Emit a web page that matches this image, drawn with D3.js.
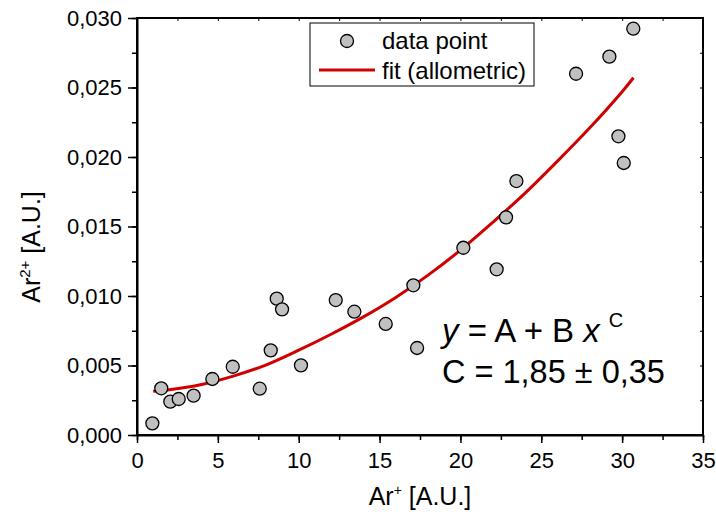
<!DOCTYPE html>
<html>
<head>
<meta charset="utf-8">
<script src="https://cdn.jsdelivr.net/npm/d3@7"></script>
<style>
  body { margin: 0; background: #fff; }
  svg text { font-family: "Liberation Sans", Arial, sans-serif; fill: #000; }
  .axis path, .axis line { stroke: #000; }
</style>
</head>
<body>
<svg id="svg"></svg>
<script>
  // data
  const arPlus = [0.95, 1.5, 2.06, 2.58, 3.5, 4.66, 5.92, 7.59, 8.27, 8.64, 8.97, 10.14, 12.29, 13.44,
                  15.38, 17.09, 17.32, 20.18, 22.24, 22.82, 23.46, 27.15, 29.21, 29.77, 30.1, 30.69];
  const ar2Plus = [0.00084, 0.00336, 0.0024, 0.00259, 0.00283, 0.00403, 0.00491, 0.00333, 0.00609, 0.00981, 0.00904, 0.00501, 0.00971, 0.00887,
                   0.00799, 0.01077, 0.00626, 0.01347, 0.01192, 0.01566, 0.01827, 0.02599, 0.02722, 0.02149, 0.01957, 0.02923];
  const fitX = [1, 2, 4, 6, 8, 10, 12, 14, 16, 18, 20, 22, 24, 26, 28, 30, 30.7];
  const fitY = [0.00315, 0.00325, 0.00363, 0.00425, 0.00505, 0.0061, 0.00725, 0.0085, 0.0099, 0.0115,
                0.0133, 0.0153, 0.0174, 0.0197, 0.0221, 0.0247, 0.0257];
  const xTicks = [0, 5, 10, 15, 20, 25, 30, 35];
  const yTicks = [0, 0.005, 0.010, 0.015, 0.020, 0.025, 0.030];
  const legendLabels = ["data point", "fit (allometric)"];

  const marginLeft = 137;
  const marginTop = 18;
  const width = 703 - marginLeft;
  const height = 435 - marginTop;

  const svg = d3.select("#svg")
      .attr("width", 716)
      .attr("height", 521);

  const xScale = d3.scaleLinear().domain([0, 35]).range([0, width]);
  const yScale = d3.scaleLinear().domain([0, 0.030]).range([height, 0]);

  const commaFmt = d => d3.format(".3f")(d).replace(".", ",");

  const chart = svg.append("g")
      .attr("transform", `translate(${marginLeft}, ${marginTop})`);

  const xMinor = d3.range(0, 35.01, 2.5);
  const yMinor = d3.range(0, 0.03001, 0.0025);

  // minor ticks first
  chart.append("g").attr("class", "axis")
      .attr("transform", `translate(0, ${height})`)
      .call(d3.axisBottom(xScale).tickValues(xMinor).tickSize(5).tickFormat(""))
      .call(g => g.select(".domain").remove())
      .selectAll("line").attr("stroke-width", 1.5);
  chart.append("g").attr("class", "axis")
      .call(d3.axisLeft(yScale).tickValues(yMinor).tickSize(5).tickFormat(""))
      .call(g => g.select(".domain").remove())
      .selectAll("line").attr("stroke-width", 1.5);

  // top / right ticks pointing inward
  chart.append("g").attr("class", "axis")
      .call(d3.axisTop(xScale).tickValues(xMinor).tickSize(-3).tickFormat(""))
      .call(g => g.select(".domain").remove())
      .selectAll("line").attr("stroke-width", 1);
  chart.append("g").attr("class", "axis")
      .attr("transform", `translate(${width}, 0)`)
      .call(d3.axisRight(yScale).tickValues(yMinor).tickSize(-3).tickFormat(""))
      .call(g => g.select(".domain").remove())
      .selectAll("line").attr("stroke-width", 1);

  // frame
  chart.append("rect")
      .attr("width", width)
      .attr("height", height)
      .attr("fill", "none")
      .attr("stroke", "#000")
      .attr("stroke-width", 2);

  const xAxis = chart.append("g").attr("class", "axis")
      .attr("transform", `translate(0, ${height})`)
      .call(d3.axisBottom(xScale).tickValues(xTicks).tickSize(8).tickPadding(9).tickSizeOuter(0));
  xAxis.select(".domain").attr("stroke-width", 2);
  xAxis.selectAll("line").attr("stroke-width", 1.5);
  xAxis.selectAll("text").style("font-size", "22px");

  const yAxis = chart.append("g").attr("class", "axis")
      .call(d3.axisLeft(yScale).tickValues(yTicks).tickSize(9).tickPadding(6).tickSizeOuter(0).tickFormat(commaFmt));
  yAxis.select(".domain").attr("stroke-width", 2);
  yAxis.selectAll("line").attr("stroke-width", 1.5);
  yAxis.selectAll("text").style("font-size", "22px");

  // axis titles
  const xTitle = svg.append("text")
      .attr("x", marginLeft + width / 2)
      .attr("y", 505)
      .attr("text-anchor", "middle")
      .style("font-size", "25px");
  xTitle.append("tspan").text("Ar");
  xTitle.append("tspan").attr("dy", -10).style("font-size", "14px").text("+");
  xTitle.append("tspan").attr("dy", 10).text(" [A.U.]");

  const yTitle = svg.append("text")
      .attr("transform", "translate(40, 247) rotate(-90)")
      .attr("text-anchor", "middle")
      .style("font-size", "25px");
  yTitle.append("tspan").text("Ar");
  yTitle.append("tspan").attr("dy", -10).style("font-size", "15px").text("2+");
  yTitle.append("tspan").attr("dy", 10).text(" [A.U.]");

  // fit curve
  const fitData = fitX.map((x, i) => ({ x: x, y: fitY[i] }));
  chart.append("path")
      .datum(fitData)
      .attr("fill", "none")
      .attr("stroke", "#d00000")
      .attr("stroke-width", 3)
      .attr("d", d3.line()
        .x(d => xScale(d.x))
        .y(d => yScale(d.y))
        .curve(d3.curveCatmullRom));

  // data points
  const points = arPlus.map((x, i) => ({ x: x, y: ar2Plus[i] }));
  chart.selectAll(".dot")
      .data(points)
      .enter().append("circle")
      .attr("class", "dot")
      .attr("cx", d => xScale(d.x))
      .attr("cy", d => yScale(d.y))
      .attr("r", 6.5)
      .attr("fill", "#c0c0c0")
      .attr("stroke", "#000")
      .attr("stroke-width", 1.3);

  // legend
  const legend = svg.append("g").attr("transform", "translate(310, 23)");
  legend.append("rect")
      .attr("width", 224)
      .attr("height", 63)
      .attr("fill", "#fff")
      .attr("stroke", "#000")
      .attr("stroke-width", 1);
  legend.append("circle")
      .attr("cx", 37).attr("cy", 18).attr("r", 6.5)
      .attr("fill", "#c0c0c0").attr("stroke", "#000").attr("stroke-width", 1.3);
  legend.append("line")
      .attr("x1", 9).attr("x2", 65).attr("y1", 47).attr("y2", 47)
      .attr("stroke", "#d00000").attr("stroke-width", 3);
  legend.selectAll(".lbl")
      .data(legendLabels)
      .enter().append("text")
      .attr("class", "lbl")
      .attr("x", 72)
      .attr("y", (d, i) => 26 + i * 30)
      .style("font-size", "24px")
      .text(d => d);

  // equation
  const eq = svg.append("text")
      .attr("x", 442)
      .attr("y", 342)
      .style("font-size", "33px");
  eq.append("tspan").style("font-style", "italic").text("y");
  eq.append("tspan").text(" = A + B ");
  eq.append("tspan").style("font-style", "italic").text("x");
  eq.append("tspan").attr("dx", 9).attr("dy", -15).style("font-size", "20px").text("C");
  svg.append("text")
      .attr("x", 442)
      .attr("y", 383)
      .style("font-size", "32.5px")
      .text("C = 1,85 ± 0,35");
</script>
</body>
</html>
